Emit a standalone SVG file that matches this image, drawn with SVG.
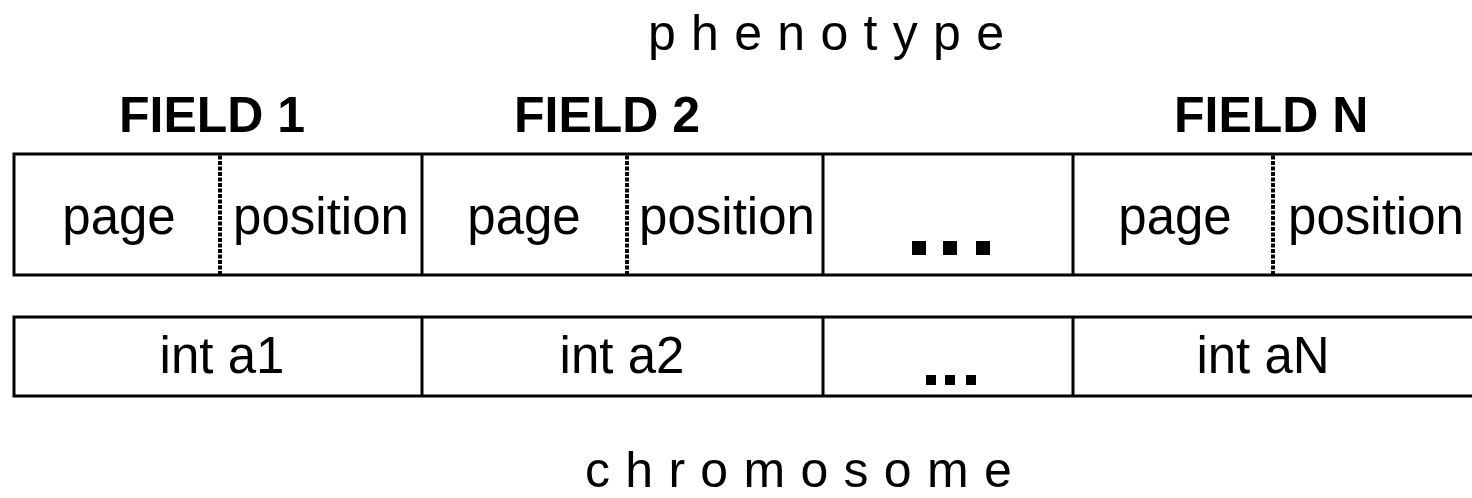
<svg xmlns="http://www.w3.org/2000/svg" width="1472" height="498" viewBox="0 0 1472 498">
  <style>
    .box { fill: #fff; stroke: #000; stroke-width: 3; }
    .div { stroke: #000; stroke-width: 3; }
    .dot { stroke: #000; stroke-width: 4; stroke-dasharray: 4 1.5; }
    .lbl { font-family: "Liberation Sans", Arial, sans-serif; font-size: 51px; fill: #000; text-anchor: middle; }
    .head { font-family: "Liberation Sans", Arial, sans-serif; font-size: 50px; font-weight: bold; fill: #000; }
    .title { font-family: "Liberation Sans", Arial, sans-serif; font-size: 50px; fill: #000; letter-spacing: 15.3px; }
  </style>
  <rect width="1472" height="498" fill="#fff"/>

  <!-- titles -->
  <text id="phenotype" class="title" x="648" y="50">phenotype</text>
  <text id="chromosome" class="title" x="585" y="487">chromosome</text>

  <!-- field headings -->
  <g id="headings">
    <text class="head" x="119" y="132">FIELD 1</text>
    <text class="head" x="514" y="132">FIELD 2</text>
    <text class="head" x="1174" y="132">FIELD N</text>
  </g>

  <!-- phenotype row -->
  <g id="phenotype-row">
    <rect class="box" x="14" y="154" width="1466" height="121"/>
    <line class="div" x1="422" y1="154" x2="422" y2="275"/>
    <line class="div" x1="823" y1="154" x2="823" y2="275"/>
    <line class="div" x1="1073" y1="154" x2="1073" y2="275"/>
    <line class="dot" x1="220" y1="155.5" x2="220" y2="274"/>
    <line class="dot" x1="627" y1="155.5" x2="627" y2="274"/>
    <line class="dot" x1="1273" y1="155.5" x2="1273" y2="274"/>
    <text class="lbl" x="119" y="234">page</text>
    <text class="lbl" x="321" y="234">position</text>
    <text class="lbl" x="524" y="234">page</text>
    <text class="lbl" x="727" y="234">position</text>
    <text class="lbl" x="1175" y="234">page</text>
    <text class="lbl" x="1376" y="234">position</text>
    <rect x="912" y="241" width="14" height="14"/>
    <rect x="943" y="241" width="14" height="14"/>
    <rect x="976" y="241" width="14" height="14"/>
  </g>

  <!-- chromosome row -->
  <g id="chromosome-row">
    <rect class="box" x="14" y="317" width="1466" height="79"/>
    <line class="div" x1="422" y1="317" x2="422" y2="396"/>
    <line class="div" x1="823" y1="317" x2="823" y2="396"/>
    <line class="div" x1="1073" y1="317" x2="1073" y2="396"/>
    <text class="lbl" x="222" y="373">int a1</text>
    <text class="lbl" x="622" y="373">int a2</text>
    <text class="lbl" x="1263" y="373">int aN</text>
    <rect x="926" y="375" width="10" height="10"/>
    <rect x="945" y="375" width="10" height="10"/>
    <rect x="966" y="375" width="10" height="10"/>
  </g>
</svg>
